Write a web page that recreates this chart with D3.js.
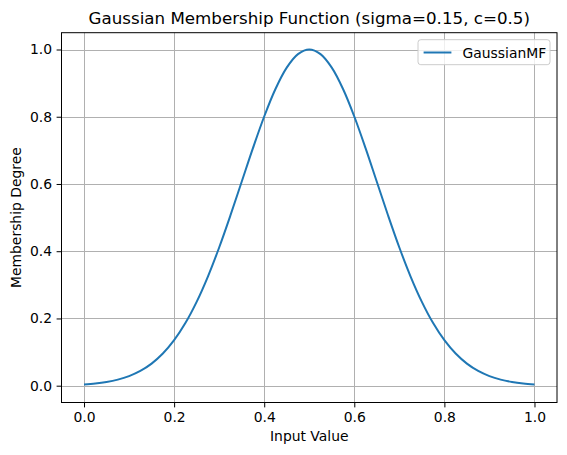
<!DOCTYPE html>
<html><head><meta charset="utf-8">
<script src="https://cdn.jsdelivr.net/npm/d3@7"></script>
<style>body{margin:0;background:#fff}svg{display:block;font-family:"DejaVu Sans",sans-serif}</style>
</head><body><div id="chart"></div>
<script>
const xValues = [0,0.025,0.05,0.075,0.1,0.125,0.15,0.175,0.2,0.225,0.25,0.275,0.3,0.325,0.35,0.375,0.4,0.425,0.45,0.475,0.5,0.525,0.55,0.575,0.6,0.625,0.65,0.675,0.7,0.725,0.75,0.775,0.8,0.825,0.85,0.875,0.9,0.925,0.95,0.975,1];
const membership = [0.0039,0.0066,0.0111,0.0181,0.0286,0.0439,0.0657,0.0956,0.1353,0.1863,0.2494,0.3247,0.4111,0.5064,0.6065,0.7066,0.8007,0.8825,0.9460,0.9862,1.0,0.9862,0.9460,0.8825,0.8007,0.7066,0.6065,0.5064,0.4111,0.3247,0.2494,0.1863,0.1353,0.0956,0.0657,0.0439,0.0286,0.0181,0.0111,0.0066,0.0039];
const xTicks = [0,0.2,0.4,0.6,0.8,1.0];
const yTicks = [0,0.2,0.4,0.6,0.8,1.0];
const seriesName = "GaussianMF";
const titleText = "Gaussian Membership Function (sigma=0.15, c=0.5)";
const xLabel = "Input Value";
const yLabel = "Membership Degree";

const W = 567, H = 455;
const L = 61.5, R = 557, T = 32.7, B = 402.5;
const svg = d3.select("#chart").append("svg").attr("width", W).attr("height", H);
const x = d3.scaleLinear().domain([-0.05, 1.05]).range([L, R]);
const y = d3.scaleLinear().domain([-0.05, 1.05]).range([B, T]);

// grid
const g = svg.append("g");
g.selectAll(".gx").data(xTicks).enter().append("line")
  .attr("x1", d => Math.round(x(d)) + 0.5).attr("x2", d => Math.round(x(d)) + 0.5)
  .attr("y1", T).attr("y2", B).attr("stroke", "#b0b0b0").attr("stroke-width", 1);
g.selectAll(".gy").data(yTicks).enter().append("line")
  .attr("y1", d => Math.round(y(d)) + 0.5).attr("y2", d => Math.round(y(d)) + 0.5)
  .attr("x1", L).attr("x2", R).attr("stroke", "#b0b0b0").attr("stroke-width", 1);

// line
const line = d3.line().x((d, i) => x(xValues[i])).y(d => y(d)).curve(d3.curveCatmullRom);
svg.append("path").datum(membership).attr("d", line)
  .attr("fill", "none").attr("stroke", "#1f77b4").attr("stroke-width", 2);

// axes
const xAxis = d3.axisBottom(x).tickValues(xTicks).tickFormat(d3.format(".1f")).tickSizeOuter(0).tickSize(4.9).tickPadding(4.5);
const yAxis = d3.axisLeft(y).tickValues(yTicks).tickFormat(d3.format(".1f")).tickSizeOuter(0).tickSize(4.9).tickPadding(4.5);
const gx = svg.append("g").attr("transform", `translate(0,${B})`).call(xAxis);
const gy = svg.append("g").attr("transform", `translate(${L},0)`).call(yAxis);
[gx, gy].forEach(a => {
  a.select(".domain").remove();
  a.selectAll("line").attr("stroke", "#000").attr("stroke-width", 1);
  a.selectAll("text").attr("font-size", "13.9px").attr("fill", "#000").attr("font-family", "DejaVu Sans, sans-serif");
});
svg.append("rect").attr("x", L).attr("y", T).attr("width", R - L).attr("height", B - T)
  .attr("fill", "none").attr("stroke", "#000").attr("stroke-width", 1);

// title & labels
svg.append("text").attr("x", (L + R) / 2).attr("y", 24.3).attr("text-anchor", "middle")
  .attr("font-size", "16.7px").text(titleText);
svg.append("text").attr("x", (L + R) / 2).attr("y", 441).attr("text-anchor", "middle")
  .attr("font-size", "13.9px").text(xLabel);
svg.append("text").attr("transform", `translate(21,${(T + B) / 2}) rotate(-90)`).attr("text-anchor", "middle")
  .attr("font-size", "13.9px").text(yLabel);

// legend
const lg = svg.append("g");
lg.append("rect").attr("x", 418).attr("y", 39.7).attr("width", 132).attr("height", 25).attr("rx", 2.8)
  .attr("fill", "#fff").attr("fill-opacity", 0.8).attr("stroke", "#cccccc").attr("stroke-width", 1);
lg.append("line").attr("x1", 423.6).attr("x2", 451.4).attr("y1", 52.5).attr("y2", 52.5)
  .attr("stroke", "#1f77b4").attr("stroke-width", 2);
lg.append("text").attr("x", 462.5).attr("y", 57.5).attr("font-size", "13.9px").text(seriesName);
</script></body></html>
